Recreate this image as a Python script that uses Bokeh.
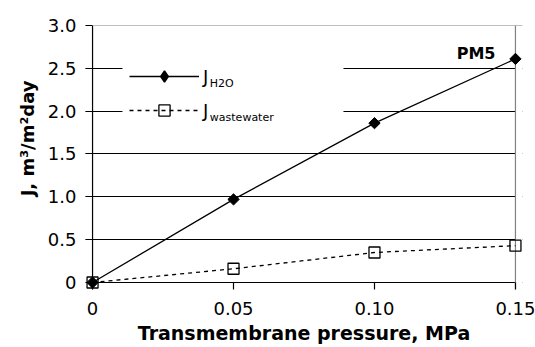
import math
from bokeh.plotting import figure
from bokeh.models import (Legend, LegendItem, Label, Title, FixedTicker, Range1d,
                          Span, BoxAnnotation)
from bokeh.embed import file_html
from bokeh.resources import INLINE

# ---- data ----
pressure = [0, 0.05, 0.10, 0.15]
j_h2o = [0.0, 0.97, 1.86, 2.61]
j_wastewater = [0.0, 0.16, 0.35, 0.43]

x_ticks = [0, 0.05, 0.10, 0.15]
x_tick_labels = ["0", "0.05", "0.10", "0.15"]
y_ticks = [0, 0.5, 1.0, 1.5, 2.0, 2.5, 3.0]
y_tick_labels = ["0", "0.5", "1.0", "1.5", "2.0", "2.5", "3.0"]
grid_ticks = [0.5, 1.0, 1.5, 2.0, 2.5]
x_min, x_max = 0.0, 0.15
y_min, y_max = 0.0, 3.0
series_subscripts = ["H2O", "wastewater"]
panel_label = "PM5"
x_title = "Transmembrane pressure, MPa"
y_title = "J, m³/m²day"

FONT = "DejaVu Sans"

# a little extra room around the data area so edge markers are not cut;
# the axes sit on the frame edge and their inward ticks reach the data edge
p = figure(width=535, height=347, output_backend="svg", toolbar_location=None,
           x_range=Range1d(-0.0025, 0.1525), y_range=Range1d(-0.082, 3.0),
           min_border_left=85, min_border_right=13,
           min_border_top=25, min_border_bottom=58)

p.background_fill_color = "white"
p.border_fill_color = "white"
p.outline_line_color = None

p.xgrid.visible = False
p.ygrid.ticker = FixedTicker(ticks=grid_ticks)
p.ygrid.grid_line_color = "black"
p.ygrid.grid_line_width = 1.2

# axis lines at the data origin
p.add_layout(Span(location=y_min, dimension="width", line_color="black",
                  line_width=1.2, level="underlay"))
p.add_layout(Span(location=x_min, dimension="height", line_color="black",
                  line_width=1.2, level="underlay"))
# hide grid / axis stubs right of the data area
p.add_layout(BoxAnnotation(left=x_max, fill_color="white", fill_alpha=1,
                           line_color=None, level="underlay"))
# white panel behind the legend (hides the grid lines there)
p.add_layout(BoxAnnotation(left=0.0106, right=0.0890, bottom=1.763, top=2.65,
                           fill_color="white", fill_alpha=1,
                           line_color=None, level="underlay"))
# gray border at top and right of the data area
p.add_layout(Span(location=y_max, dimension="width", line_color="#808080",
                  line_width=1.2, level="underlay"))
p.add_layout(Span(location=x_max, dimension="height", line_color="#808080",
                  line_width=1.2, level="underlay"))

for ax in (p.xaxis[0], p.yaxis[0]):
    ax.axis_line_color = None
    ax.major_tick_line_color = "black"
    ax.major_tick_line_width = 1.2
    ax.major_tick_in = 7
    ax.major_tick_out = 0
    ax.minor_tick_line_color = None
    ax.major_label_text_font = FONT
    ax.major_label_text_font_size = "18px"
    ax.major_label_text_color = "black"
    ax.axis_label_text_font = FONT
    ax.axis_label_text_font_style = "bold"
    ax.axis_label_text_color = "black"

p.xaxis.ticker = FixedTicker(ticks=x_ticks)
p.xaxis.major_label_overrides = {t: s for t, s in zip(x_ticks, x_tick_labels)}
p.xaxis.major_label_standoff = 12
p.xaxis.axis_label = x_title
p.xaxis.axis_label_text_font_size = "19px"
p.xaxis.axis_label_standoff = 4

p.yaxis.ticker = FixedTicker(ticks=y_ticks)
p.yaxis.major_label_overrides = {t: s for t, s in zip(y_ticks, y_tick_labels)}
p.yaxis.major_label_standoff = 9

# y title as a side title, its end placed a little below the top (as in the reference)
p.add_layout(Title(text=y_title, align="right", offset=55, standoff=14,
                   text_font=FONT, text_font_style="bold", text_font_size="18px",
                   text_color="black"), "left")

r1 = p.line(pressure, j_h2o, line_color="black", line_width=1.3)
r1m = p.scatter(pressure, j_h2o, marker="square", angle=math.pi / 4, size=8,
                fill_color="black", line_color="black", line_width=1)
# hidden twin of the H2O markers, used only for the legend key (diamond)
r1k = p.scatter(pressure, j_h2o, marker="diamond", size=14, visible=False,
                fill_color="black", line_color="black", line_width=1.5)
r2 = p.line(pressure, j_wastewater, line_color="black", line_width=1.3, line_dash="4 4")
r2m = p.scatter(pressure, j_wastewater, marker="square", size=11,
                fill_color=None, line_color="black", line_width=1.3)

legend = Legend(
    items=[LegendItem(label="J", renderers=[r1, r1k]),
           LegendItem(label="J", renderers=[r2, r2m])],
    location=(44, 165), orientation="vertical",
    padding=7, spacing=6, margin=0,
    glyph_width=70, glyph_height=28, label_height=28, label_width=131,
    label_standoff=4,
    border_line_color=None, background_fill_alpha=0,
    inactive_fill_alpha=0,
    label_text_font=FONT, label_text_font_size="18px", label_text_color="black",
)
p.add_layout(legend)

p.add_layout(Label(x=0.0416, y=2.325, text=series_subscripts[0], text_font=FONT,
                   text_font_size="11px", text_color="black", text_baseline="alphabetic"))
p.add_layout(Label(x=0.0416, y=1.93, text=series_subscripts[1], text_font=FONT,
                   text_font_size="11px", text_color="black", text_baseline="alphabetic"))
p.add_layout(Label(x=0.1429, y=2.673, text=panel_label, text_font=FONT, text_font_style="bold",
                   text_font_size="16px", text_color="black", text_align="right",
                   text_baseline="alphabetic"))

open("out.html", "w").write(file_html(p, INLINE))
